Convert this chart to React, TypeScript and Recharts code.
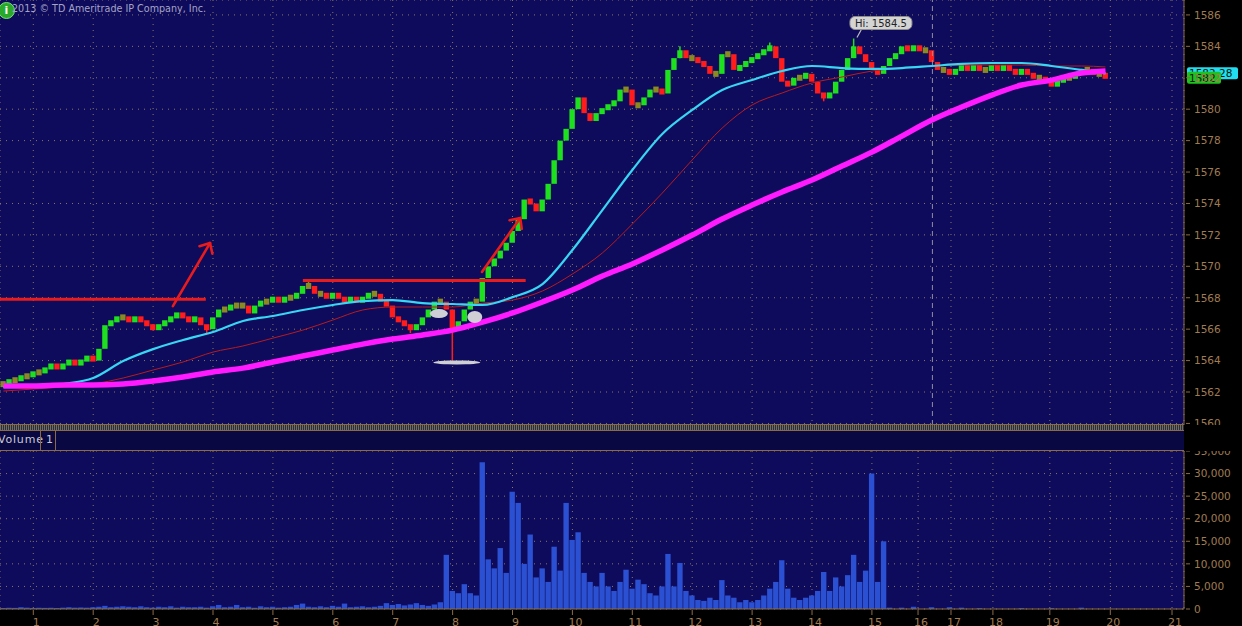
import React from "react";
import {
  ComposedChart,
  Bar,
  Line,
  XAxis,
  YAxis,
  CartesianGrid,
  ReferenceLine,
  ReferenceDot,
} from "recharts";

// time axis: one slot = one hour of the day session, evening hours are squeezed
const hourLabels = ["1", "2", "3", "4", "5", "6", "7", "8", "9", "10", "11", "12", "13", "14", "15", "16", "17", "18", "19", "20", "21"];
const hourSlots = [1, 2, 3, 4, 5, 6, 7, 8, 9, 10, 11, 12, 13, 14, 15, 15.77, 16.32, 17.02, 17.97, 18.98, 20.01];
const FIRST_SLOT = 0.5;
const SLOT_STEP = 0.1;
const X_MIN = 0.444;
const X_MAX = 20.21;
const SESSION_BREAK = 16.01;

const priceTicks = [1560, 1562, 1564, 1566, 1568, 1570, 1572, 1574, 1576, 1578, 1580, 1582, 1584, 1586];
const volumeTicks = [0, 5000, 10000, 15000, 20000, 25000, 30000, 35000];

// closing price of each bar
const closes = [
  1562.5, 1562.75, 1562.75, 1563.0, 1563.0, 1563.25, 1563.25, 1563.5, 1563.75, 1563.5,
  1563.75, 1564.0, 1563.75, 1564.0, 1564.25, 1564.0, 1564.75, 1566.25, 1566.5, 1566.75,
  1566.75, 1566.5, 1566.75, 1566.5, 1566.25, 1566.0, 1566.25, 1566.5, 1566.75, 1567.0,
  1566.75, 1566.5, 1566.75, 1566.25, 1566.0, 1566.75, 1567.25, 1567.25, 1567.5, 1567.5,
  1567.5, 1567.0, 1567.5, 1567.75, 1567.75, 1568.0, 1567.75, 1568.0, 1568.0, 1568.25,
  1568.75, 1568.75, 1568.25, 1568.25, 1568.0, 1568.25, 1568.0, 1567.75, 1568.0, 1567.75,
  1568.0, 1568.25, 1568.25, 1567.75, 1567.5, 1566.75, 1566.5, 1566.25, 1566.0, 1566.25,
  1566.75, 1567.25, 1567.75, 1567.75, 1567.25, 1566.0, 1566.5, 1567.25, 1567.75, 1567.75,
  1569.25, 1570.0, 1570.5, 1571.0, 1571.5, 1572.25, 1573.0, 1574.25, 1574.0, 1573.5,
  1574.25, 1575.25, 1576.75, 1578.0, 1578.75, 1580.0, 1580.75, 1579.75, 1579.25, 1579.75,
  1580.0, 1580.25, 1580.5, 1581.25, 1581.25, 1580.25, 1580.25, 1580.75, 1581.25, 1581.25,
  1581.0, 1582.5, 1583.25, 1583.75, 1583.25, 1583.25, 1583.0, 1582.75, 1582.25, 1582.25,
  1583.5, 1583.5, 1582.5, 1582.75, 1583.0, 1583.25, 1583.5, 1583.75, 1584.0, 1583.25,
  1581.75, 1581.5, 1582.0, 1582.0, 1582.25, 1581.75, 1581.0, 1580.75, 1581.0, 1581.75,
  1582.5, 1583.25, 1584.0, 1583.5, 1583.0, 1582.5, 1582.25, 1582.75, 1583.25, 1583.5,
  1584.0, 1583.75, 1584.0, 1583.75, 1583.75, 1583.0, 1582.5, 1582.5, 1582.25, 1582.5,
  1582.75, 1582.5, 1582.75, 1582.5, 1582.5, 1582.75, 1582.5, 1582.75, 1582.5, 1582.25,
  1582.5, 1582.25, 1582.0, 1582.0, 1581.75, 1581.5, 1581.75, 1582.0, 1582.0, 1582.25,
  1582.5, 1582.5, 1582.25, 1582.25, 1582.0,
];

// the few bars whose wick sticks out of the body
const wickLows: Record<number, number> = { 34: 1565.75, 68: 1565.75, 75: 1564.0, 137: 1580.5 };
const wickHighs: Record<number, number> = { 51: 1569.0, 113: 1584.0, 128: 1584.25, 142: 1584.5 };

const volumes = [
  200, 300, 250, 400, 300, 200, 300, 250, 300, 200, 300, 400, 300, 350, 300, 400,
  500, 700, 400, 500, 600, 500, 400, 600, 400, 300, 500, 400, 600, 300, 500, 400,
  400, 500, 300, 600, 900, 400, 500, 900, 400, 500, 300, 600, 400, 500, 300, 400,
  500, 900, 1200, 500, 400, 600, 400, 700, 500, 1200, 400, 500, 600, 400, 500, 700,
  1300, 900, 1100, 800, 1000, 1300, 900, 700, 1000, 1500, 12000, 4000, 3500, 5500, 3500, 3000,
  32500, 11000, 9000, 13500, 8000, 26000, 23500, 10000, 16500, 7000, 9000, 6000, 13800, 8500, 23500, 15300,
  17000, 8000, 6000, 5000, 8000, 5000, 4000, 6000, 8700, 4500, 6500, 5500, 3500, 3000, 5000, 12200,
  5000, 10200, 4000, 3000, 2000, 1800, 2500, 2000, 6400, 3000, 2500, 1500, 2000, 1500, 2000, 3000,
  4500, 6000, 10800, 4500, 2500, 2000, 2500, 3000, 4000, 8200, 4000, 7000, 5000, 7500, 12000, 6000,
  8500, 30000, 6000, 15000, 300, 0, 300, 0, 500, 0, 0, 400, 0, 0, 400, 0,
  300, 0, 0, 200, 0, 0, 0, 0, 0, 0, 200, 0, 0, 0, 0, 200,
  0, 0, 0, 0, 300, 0, 0, 0, 0,
];

// moving averages, read at every 5th bar and at the last bar
const cyanAvg = [
  1562.32, 1562.32, 1562.51, 1562.89, 1563.97, 1564.73, 1565.31, 1565.82, 1566.52, 1566.84,
  1567.22, 1567.54, 1567.79, 1567.85, 1567.66, 1567.6, 1567.54, 1568.04, 1568.87, 1571.04,
  1573.58, 1576.13, 1578.42, 1579.95, 1581.22, 1581.86, 1582.43, 1582.75, 1582.62, 1582.56,
  1582.62, 1582.75, 1582.88, 1582.94, 1582.94, 1582.75, 1582.5, 1582.28,
];
const redAvg = [
  1562.06, 1562.19, 1562.32, 1562.51, 1562.89, 1563.4, 1563.91, 1564.54, 1564.93, 1565.43,
  1565.94, 1566.58, 1567.22, 1567.41, 1567.41, 1567.41, 1567.66, 1567.85, 1568.43, 1569.51,
  1570.85, 1572.69, 1574.66, 1576.77, 1578.8, 1580.27, 1581.03, 1581.67, 1582.05, 1582.43,
  1582.62, 1582.75, 1582.81, 1582.81, 1582.81, 1582.75, 1582.75, 1582.69,
];
const magentaAvg = [
  1562.38, 1562.38, 1562.44, 1562.44, 1562.51, 1562.7, 1562.95, 1563.27, 1563.52, 1563.91,
  1564.29, 1564.67, 1565.05, 1565.37, 1565.63, 1565.94, 1566.45, 1567.03, 1567.73, 1568.49,
  1569.38, 1570.15, 1571.04, 1571.99, 1573.01, 1573.9, 1574.73, 1575.49, 1576.38, 1577.27,
  1578.29, 1579.31, 1580.14, 1580.9, 1581.54, 1581.85, 1582.3, 1582.43,
];

const rows = closes.map((close, i) => {
  const open = i === 0 ? close : closes[i - 1];
  const last = i === closes.length - 1;
  const k = i % 5 === 0 ? i / 5 : last ? cyanAvg.length - 1 : -1;
  return {
    slot: Number((FIRST_SLOT + i * SLOT_STEP).toFixed(2)),
    open,
    close,
    low: wickLows[i] ?? Math.min(open, close),
    high: wickHighs[i] ?? Math.max(open, close),
    volume: volumes[i],
    cyan: k >= 0 ? cyanAvg[k] : null,
    red: k >= 0 ? redAvg[k] : null,
    magenta: k >= 0 ? magentaAvg[k] : null,
  };
});

const dayHigh = Math.max(...rows.map((r) => r.high));
const lastClose = closes[closes.length - 1];
const lastCyan = cyanAvg[cyanAvg.length - 1];

const PANEL = "#0e0a5c";
const AXIS = "#8c6a46";
const AXIS_TEXT = "#a07c52";
const GRID = "#857a62";
const UP = "#1fe01f";
const DOWN = "#ff1c1c";
const FLAT = "#8a8a22";
const ANNO = "#e81c1c";
const FONT = "DejaVu Sans, sans-serif";

const Candle = (props: any) => {
  const { x, y, width, height, payload } = props;
  const { open, close, low, high } = payload;
  const color = close > open ? UP : close < open ? DOWN : FLAT;
  const span = high - low;
  const unit = span > 0 ? height / span : 0;
  let top = y + (high - Math.max(open, close)) * unit;
  let h = Math.abs(close - open) * unit;
  if (h < 6) {
    top -= (6 - h) / 2;
    h = 6;
  }
  return (
    <g>
      {span > Math.abs(close - open) && (
        <line x1={x + width / 2} x2={x + width / 2} y1={y} y2={y + height} stroke={color} strokeWidth={1.5} />
      )}
      <rect x={x} y={top} width={width} height={h} fill={color} />
    </g>
  );
};

const PriceTick = ({ x, y, payload }: any) => (
  <g>
    <line x1={x - 8} x2={x - 4} y1={y} y2={y} stroke={AXIS} />
    <text x={x} y={y} dy="0.36em" fill={AXIS_TEXT} fontSize={10.5} fontFamily={FONT}>
      {payload.value}
    </text>
  </g>
);

const VolumeTick = ({ x, y, payload }: any) => (
  <g>
    <line x1={x - 8} x2={x - 4} y1={y} y2={y} stroke={AXIS} />
    <text x={x} y={y} dy="0.36em" fill={AXIS_TEXT} fontSize={10.5} fontFamily={FONT}>
      {Number(payload.value).toLocaleString("en-US")}
    </text>
  </g>
);

const HourTick = ({ x, y, index }: any) => (
  <g>
    <line x1={x} x2={x} y1={y - 5} y2={y} stroke={AXIS} />
    <text x={x + 3} y={y + 3} dy="0.71em" textAnchor="middle" fill={AXIS_TEXT} fontSize={11} fontFamily={FONT}>
      {hourLabels[index]}
    </text>
  </g>
);

// small marks hanging from the top edge of a panel
const TopMark = ({ x, y }: any) => <line x1={x} x2={x} y1={y} y2={y + 4} stroke={AXIS} />;

const Arrow = (props: any) => {
  const { x1, y1, x2, y2 } = props;
  const ang = Math.atan2(y2 - y1, x2 - x1) + Math.PI;
  const len = 11;
  return (
    <g stroke={ANNO} strokeWidth={2.6} strokeLinecap="round">
      <line x1={x1} y1={y1} x2={x2} y2={y2} />
      <line x1={x2} y1={y2} x2={x2 + len * Math.cos(ang - 0.75)} y2={y2 + len * Math.sin(ang - 0.75)} />
      <line x1={x2} y1={y2} x2={x2 + len * Math.cos(ang + 0.75)} y2={y2 + len * Math.sin(ang + 0.75)} />
    </g>
  );
};

const oval = (rx: number, ry: number) => ({ cx, cy }: any) => (
  <ellipse cx={cx} cy={cy} rx={rx} ry={ry} fill="#cfcfd6" />
);

const HiBubble = ({ cx, cy }: any) => (
  <g>
    <line x1={cx} y1={cy - 1} x2={cx + 5} y2={cy - 10} stroke="#bdbdbd" strokeWidth={1.2} />
    <rect x={cx - 7} y={cy - 22} width={62} height={13} rx={5} fill="#d4d4d4" stroke="#8e8e8e" />
    <text x={cx + 24} y={cy - 15.5} dy="0.36em" textAnchor="middle" fontSize={10} fontFamily={FONT} fill="#222">
      Hi: {dayHigh}
    </text>
  </g>
);

const priceTag = (label: string, fill: string, width: number) => ({ cx, cy }: any) => (
  <g>
    <rect x={cx + 3} y={cy - 6} width={width} height={12} rx={2} fill={fill} />
    <text x={cx + 5} y={cy} dy="0.36em" fontSize={10.5} fontFamily={FONT} fill="#001800">
      {label}
    </text>
  </g>
);

export default function App() {
  return (
    <div
      style={{
        position: "absolute",
        left: 0,
        top: 0,
        width: 1242,
        height: 626,
        background: "#000",
        overflow: "hidden",
        fontFamily: FONT,
      }}
    >
      <div style={{ position: "absolute", left: 0, top: 0 }}>
        <ComposedChart
          width={1242}
          height={425}
          data={rows}
          margin={{ top: 0, right: 0, bottom: 0, left: 0 }}
          accessibilityLayer={false}
        >
          <CartesianGrid stroke={GRID} strokeDasharray="1 5" fill={PANEL} />
          <XAxis dataKey="slot" type="number" domain={[X_MIN, X_MAX]} ticks={hourSlots} allowDataOverflow hide />
          <XAxis
            xAxisId="marks"
            orientation="top"
            dataKey="slot"
            type="number"
            domain={[X_MIN, X_MAX]}
            ticks={hourSlots}
            interval={0}
            allowDataOverflow
            height={0}
            axisLine={false}
            tickLine={false}
            tickMargin={0}
            tick={<TopMark />}
          />
          <YAxis
            orientation="right"
            width={58}
            domain={[1559.9, 1586.95]}
            ticks={priceTicks}
            interval={0}
            allowDataOverflow
            stroke={AXIS}
            tickLine={false}
            tickMargin={4}
            tick={<PriceTick />}
          />
          <ReferenceLine x={SESSION_BREAK} stroke="#8e8ea0" strokeDasharray="5 4" />
          <Bar dataKey={(d: any) => [d.low, d.high]} barSize={6} shape={<Candle />} activeBar={false} isAnimationActive={false} />
          <Line dataKey="red" type="monotone" stroke="#b81c1c" strokeWidth={1} dot={false} activeDot={false} connectNulls isAnimationActive={false} />
          <Line dataKey="cyan" type="monotone" stroke="#38d6f2" strokeWidth={2.2} dot={false} activeDot={false} connectNulls isAnimationActive={false} />
          <Line dataKey="magenta" type="monotone" stroke="#ff1aff" strokeWidth={5.5} dot={false} activeDot={false} connectNulls isAnimationActive={false} />
          <ReferenceLine segment={[{ x: X_MIN, y: 1567.9 }, { x: 3.88, y: 1567.9 }]} stroke={ANNO} strokeWidth={3} ifOverflow="visible" />
          <ReferenceLine segment={[{ x: 5.5, y: 1569.1 }, { x: 9.22, y: 1569.1 }]} stroke={ANNO} strokeWidth={3} ifOverflow="visible" />
          <ReferenceLine segment={[{ x: 3.33, y: 1567.47 }, { x: 3.95, y: 1571.48 }]} shape={Arrow} ifOverflow="visible" />
          <ReferenceLine segment={[{ x: 8.49, y: 1569.64 }, { x: 9.13, y: 1573.07 }]} shape={Arrow} ifOverflow="visible" />
          <ReferenceDot x={7.77} y={1566.99} shape={oval(9, 4.5)} ifOverflow="visible" />
          <ReferenceDot x={8.37} y={1566.77} shape={oval(7.5, 6)} ifOverflow="visible" />
          <ReferenceDot x={8.07} y={1563.88} shape={oval(23.5, 2)} ifOverflow="visible" />
          <ReferenceDot x={14.75} y={dayHigh} shape={HiBubble} ifOverflow="visible" />
          <ReferenceDot x={X_MAX} y={lastCyan} shape={priceTag(String(lastCyan), "#22dcef", 51)} ifOverflow="visible" />
          <ReferenceDot x={X_MAX} y={lastClose} shape={priceTag(String(lastClose), "#1fc21f", 34)} ifOverflow="visible" />
        </ComposedChart>
      </div>

      <div style={{ position: "absolute", left: -2, top: 2, width: 15, height: 15, borderRadius: "50%", background: "#2aa82a", border: "1px solid #7be07b", color: "#fff", fontSize: 11, fontWeight: 700, textAlign: "center", lineHeight: "15px" }}>
        i
      </div>
      <div style={{ position: "absolute", left: 12, top: 3, color: "#a4a4c4", fontSize: 9.6, whiteSpace: "nowrap" }}>
        2013 © TD Ameritrade IP Company, Inc.
      </div>

      <div
        style={{
          position: "absolute",
          left: 0,
          top: 424,
          width: 1184,
          height: 5,
          borderTop: `1px solid ${AXIS}`,
          borderBottom: `1px solid ${AXIS}`,
          background: "repeating-linear-gradient(90deg, #6c6c6c 0 1px, #2e2e2e 1px 2px)",
        }}
      />
      <div
        style={{
          position: "absolute",
          left: 0,
          top: 431,
          width: 1184,
          height: 19,
          background: "#0a0842",
          borderBottom: `1px solid ${AXIS}`,
          color: "#c9c9d6",
          fontSize: 11,
          letterSpacing: 0.8,
        }}
      >
        <span style={{ position: "absolute", left: -2, top: 2 }}>Volume</span>
        <span style={{ position: "absolute", left: 40, top: 0, width: 1, height: 19, background: AXIS }} />
        <span style={{ position: "absolute", left: 46, top: 2 }}>1</span>
        <span style={{ position: "absolute", left: 55, top: 0, width: 1, height: 19, background: AXIS }} />
      </div>

      <div style={{ position: "absolute", left: 0, top: 451 }}>
        <ComposedChart
          width={1242}
          height={175}
          data={rows}
          margin={{ top: 0, right: 0, bottom: 0, left: 0 }}
          accessibilityLayer={false}
        >
          <CartesianGrid stroke={GRID} strokeDasharray="1 5" fill={PANEL} />
          <XAxis
            dataKey="slot"
            type="number"
            domain={[X_MIN, X_MAX]}
            ticks={hourSlots}
            interval={0}
            allowDataOverflow
            height={17}
            stroke={AXIS}
            tickLine={false}
            tickMargin={0}
            tick={<HourTick />}
          />
          <XAxis
            xAxisId="marks"
            orientation="top"
            dataKey="slot"
            type="number"
            domain={[X_MIN, X_MAX]}
            ticks={hourSlots}
            interval={0}
            allowDataOverflow
            height={0}
            axisLine={false}
            tickLine={false}
            tickMargin={0}
            tick={<TopMark />}
          />
          <YAxis
            orientation="right"
            width={58}
            domain={[0, 35000]}
            ticks={volumeTicks}
            interval={0}
            allowDataOverflow
            stroke={AXIS}
            tickLine={false}
            tickMargin={4}
            tick={<VolumeTick />}
          />
          <Bar dataKey="volume" barSize={6} fill="#2b50d2" activeBar={false} isAnimationActive={false} />
        </ComposedChart>
      </div>
    </div>
  );
}
